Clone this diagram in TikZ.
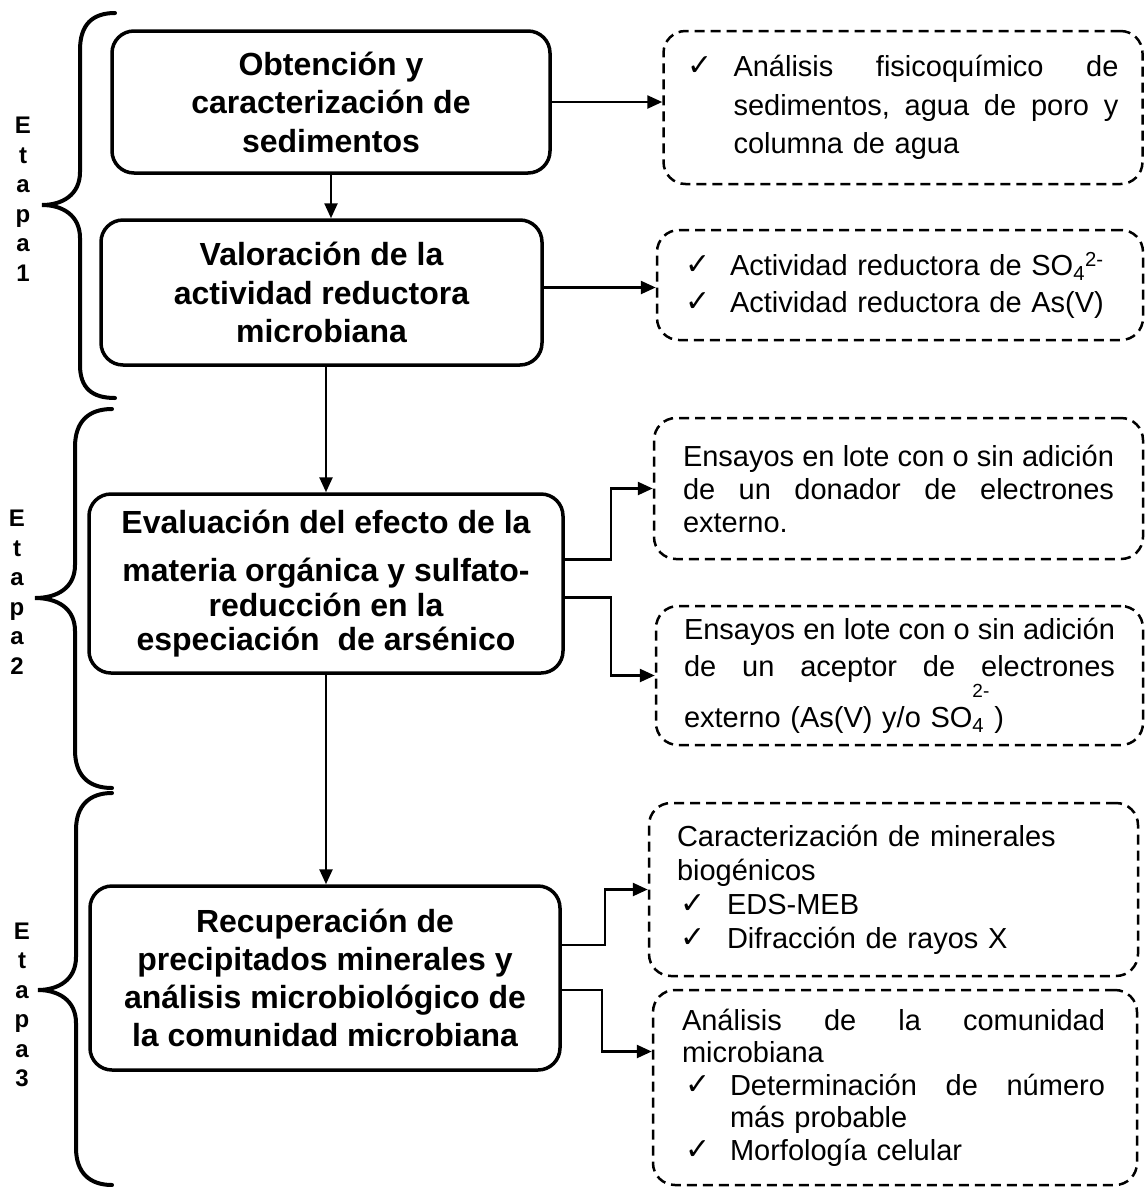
\documentclass[tikz,border=0pt]{standalone}
\usepackage{fontspec}
\setmainfont{Liberation Sans}
\newfontfamily\dvfont{DejaVu Sans}
\usetikzlibrary{arrows.meta,calc}
\newcommand{\ckw}[1]{\makebox[#1][l]{\raisebox{1pt}{\dvfont\fontsize{30}{30}\selectfont ✓}}}
\newcommand{\jline}[2]{\makebox[#1][l]{#2}}
\tikzset{
  mainbox/.style={draw, line width=3.5pt, rounded corners=22pt, align=center,
    font=\fontsize{32}{38.5}\selectfont\bfseries, inner sep=0pt},
  sidebox/.style={draw, dash pattern=on 10pt off 6pt, line width=2.5pt,
    rounded corners=22pt, align=left, inner sep=0pt},
  conn/.style={line width=2.5pt, -{Triangle[length=15pt,width=13pt]}},
  brace/.style={line width=4pt, line cap=round},
  etapa/.style={align=center, font=\fontsize{24}{29.5}\selectfont\bfseries, inner sep=0pt},
}
\begin{document}
\begin{tikzpicture}[x=1pt,y=-1pt]
\useasboundingbox (0,0) rectangle (1145,1187);

% main boxes
\node[mainbox, minimum width=438pt, minimum height=142pt] (b1) at (331,102)
  {Obtención y\\caracterización de\\sedimentos};
\node[mainbox, minimum width=441pt, minimum height=145pt] (b2) at (321.5,292.5)
  {Valoración de la\\actividad reductora\\microbiana};
\node[mainbox, minimum width=474pt, minimum height=179pt,
  font=\fontsize{32}{34.5}\selectfont\bfseries] (b3) at (326,583.5)
  {Evaluación del efecto de la\\[14pt]materia orgánica y sulfato-\\reducción en la\\especiación\ \ de arsénico};
\node[mainbox, minimum width=470pt, minimum height=184pt,
  font=\fontsize{32}{38}\selectfont\bfseries] (b4) at (325,978)
  {Recuperación de\\precipitados minerales y\\análisis microbiológico de\\la comunidad microbiana};

% side boxes
\node[sidebox, minimum width=479pt, minimum height=153pt, text width=431pt,
  font=\fontsize{29}{38.5}\selectfont] (d1) at (903,107.5)
  {\ckw{46pt}\jline{385pt}{Análisis\hfill fisicoquímico\hfill de}\\
   \hspace*{46pt}\jline{385pt}{sedimentos,\hfill agua\hfill de\hfill poro\hfill y}\\
   \hspace*{46pt}columna de agua};
\node[sidebox, minimum width=486pt, minimum height=110pt, text width=430pt,
  font=\fontsize{29}{37}\selectfont] (d2) at (900,285)
  {\ckw{45pt}Actividad reductora de SO\textsubscript{4}\textsuperscript{2-}\\
   \ckw{45pt}Actividad reductora de As(V)};
\node[sidebox, minimum width=489pt, minimum height=141pt, text width=431pt,
  font=\fontsize{29}{33}\selectfont] (d3) at (898.5,488.5)
  {\jline{431pt}{Ensayos\hfill en\hfill lote\hfill con\hfill o\hfill sin\hfill adición}\\
   \jline{431pt}{de\hfill un\hfill donador\hfill de\hfill electrones}\\
   externo.};
\node[sidebox, minimum width=487pt, minimum height=139pt, text width=431pt,
  font=\fontsize{29}{37.5}\selectfont] (d4) at (899.5,675.5)
  {\jline{431pt}{Ensayos\hfill en\hfill lote\hfill con\hfill o\hfill sin\hfill adición}\\
   \jline{431pt}{de\hfill un\hfill aceptor\hfill de\hfill electrones}\\
   externo (As(V) y/o SO\rlap{\raisebox{30pt}{\fontsize{19}{19}\selectfont 2-}}\textsubscript{4}\hspace{10pt})};
\node[sidebox, minimum width=489pt, minimum height=173pt, text width=433pt,
  font=\fontsize{29}{34}\selectfont] (d5) at (893.5,889.5)
  {Caracterización de minerales\\
   biogénicos\\
   \hspace*{3pt}\ckw{47pt}EDS-MEB\\
   \hspace*{3pt}\ckw{47pt}Difracción de rayos X};
\node[sidebox, minimum width=484pt, minimum height=195pt, text width=426pt,
  font=\fontsize{29}{32.5}\selectfont] (d6) at (895,1087.5)
  {\jline{423pt}{Análisis\hfill de\hfill la\hfill comunidad}\\
   microbiana\\
   \hspace*{3pt}\ckw{45pt}\jline{375pt}{Determinación\hfill de\hfill número}\\
   \hspace*{48pt}más probable\\
   \hspace*{3pt}\ckw{45pt}Morfología celular};

% stage labels
\node[etapa] (e1) at (23,199) {E\\t\\a\\p\\a\\1};
\node[etapa] (e2) at (17,592) {E\\t\\a\\p\\a\\2};
\node[etapa] (e3) at (22,1005) {E\\t\\a\\p\\a\\3};

% braces
\draw[brace] (115,13) .. controls (92,13) and (80,25) .. (80,50) -- (80,172)
  .. controls (80,195) and (62,205) .. (42,205)
  .. controls (62,205) and (80,215) .. (80,238) -- (80,365)
  .. controls (80,388) and (92,398) .. (115,398);
\draw[brace] (112,409) .. controls (88,409) and (75,422) .. (75,447) -- (75,565)
  .. controls (75,588) and (57,598) .. (35,598)
  .. controls (57,598) and (75,608) .. (75,631) -- (75,750)
  .. controls (75,775) and (88,788) .. (112,788);
\draw[brace] (112,793) .. controls (89,793) and (76,806) .. (76,830) -- (76,957)
  .. controls (76,980) and (58,990) .. (38,990)
  .. controls (58,990) and (76,1000) .. (76,1023) -- (76,1148)
  .. controls (76,1172) and (89,1185) .. (112,1185);

% connectors
\draw[conn] (b1.east) -- (b1.east -| d1.west);
\draw[conn] ([yshift=5pt]b2.east) -- ([yshift=5pt]b2.east -| d2.west);
\draw[conn] (b1.south) -- (b1.south |- b2.north);
\draw[conn] (b3.north |- b2.south) -- (b3.north);
\draw[conn] (b3.south) -- (b3.south |- b4.north);
\draw[conn] ([yshift=24pt]b3.east) -- ++(46,0) |- (d3.west);
\draw[conn] ([yshift=-14pt]b3.east) -- ++(46,0) |- (d4.west);
\draw[conn] ([yshift=33pt]b4.east) -- ++(43,0) |- (d5.west);
\draw[conn] ([yshift=-12pt]b4.east) -- ++(40,0) |- ([yshift=36pt]d6.west);
\end{tikzpicture}
\end{document}
